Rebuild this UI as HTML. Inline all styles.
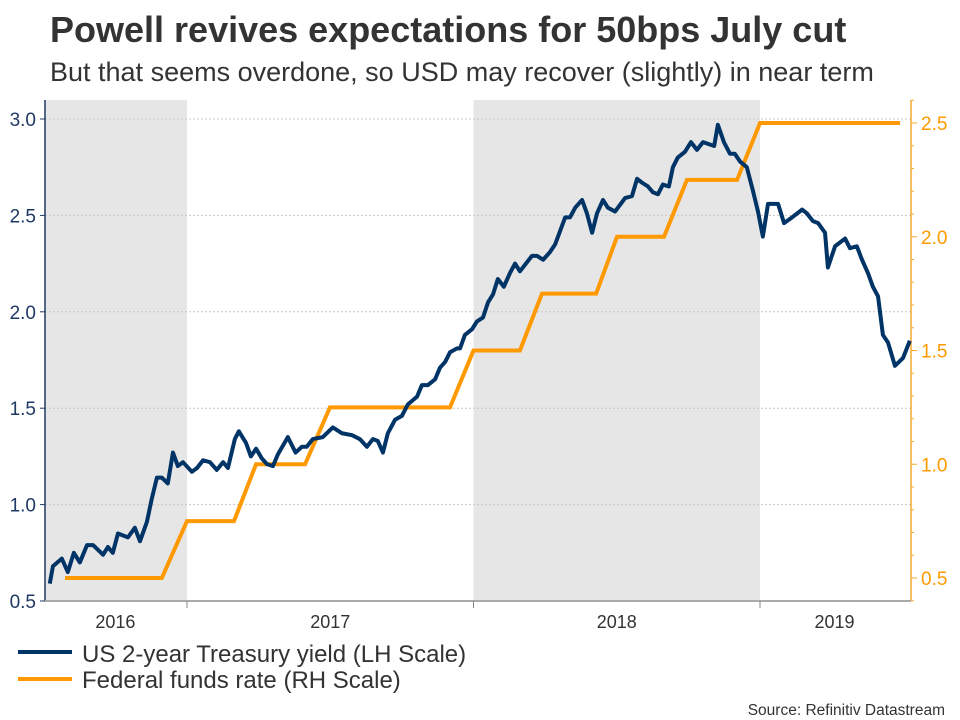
<!DOCTYPE html>
<html><head><meta charset="utf-8"><style>
body{margin:0;background:#fff;font-family:"Liberation Sans",Arial,sans-serif;}
svg{display:block}
</style></head><body>
<svg width="960" height="720" viewBox="0 0 960 720" xmlns="http://www.w3.org/2000/svg">
<text x="50" y="42" font-size="36" font-weight="bold" fill="#333">Powell revives expectations for 50bps July cut</text>
<text x="50" y="81" font-size="27" fill="#333">But that seems overdone, so USD may recover (slightly) in near term</text>
<g id="shade"></g>
<g id="grid"></g>
<g id="axes"></g>
<g id="series"></g>
<g>
<line x1="18" y1="652" x2="72" y2="652" stroke="#003366" stroke-width="4"/>
<text x="82" y="662" font-size="24" fill="#333">US 2-year Treasury yield (LH Scale)</text>
<line x1="18" y1="679" x2="72" y2="679" stroke="#ff9900" stroke-width="4"/>
<text x="82" y="688" font-size="24" fill="#333">Federal funds rate (RH Scale)</text>
</g>
<text x="945" y="715" font-size="15.5" fill="#333" text-anchor="end">Source: Refinitiv Datastream</text>
</svg>
<script>
const yieldDates=[2016.521,2016.532,2016.563,2016.584,2016.605,2016.626,2016.651,2016.672,2016.707,2016.724,2016.741,2016.759,2016.794,2016.818,2016.836,2016.860,2016.877,2016.895,2016.912,2016.933,2016.951,2016.968,2016.986,2017.017,2017.035,2017.056,2017.080,2017.104,2017.126,2017.143,2017.167,2017.181,2017.206,2017.223,2017.241,2017.261,2017.279,2017.300,2017.317,2017.352,2017.379,2017.401,2017.418,2017.439,2017.474,2017.509,2017.541,2017.576,2017.603,2017.628,2017.649,2017.666,2017.684,2017.701,2017.726,2017.750,2017.771,2017.803,2017.820,2017.841,2017.866,2017.883,2017.901,2017.918,2017.942,2017.953,2017.970,2017.995,2018.012,2018.033,2018.051,2018.068,2018.085,2018.106,2018.127,2018.145,2018.162,2018.204,2018.222,2018.243,2018.267,2018.285,2018.320,2018.337,2018.355,2018.379,2018.396,2018.414,2018.431,2018.452,2018.469,2018.494,2018.529,2018.553,2018.571,2018.588,2018.609,2018.626,2018.644,2018.661,2018.682,2018.696,2018.713,2018.738,2018.759,2018.780,2018.801,2018.840,2018.853,2018.874,2018.895,2018.912,2018.930,2018.954,2018.975,2018.993,2019.010,2019.028,2019.063,2019.084,2019.112,2019.147,2019.164,2019.185,2019.203,2019.227,2019.237,2019.262,2019.297,2019.314,2019.338,2019.356,2019.377,2019.394,2019.412,2019.429,2019.447,2019.471,2019.499,2019.523];
const yieldValues=[0.59,0.68,0.72,0.65,0.75,0.70,0.79,0.79,0.74,0.78,0.75,0.85,0.83,0.88,0.81,0.91,1.03,1.14,1.14,1.11,1.27,1.20,1.22,1.17,1.19,1.23,1.22,1.18,1.22,1.19,1.34,1.38,1.32,1.25,1.29,1.24,1.21,1.20,1.26,1.35,1.27,1.30,1.30,1.34,1.35,1.40,1.37,1.36,1.34,1.30,1.34,1.33,1.27,1.37,1.44,1.46,1.52,1.56,1.62,1.62,1.65,1.71,1.74,1.79,1.81,1.81,1.88,1.91,1.95,1.97,2.05,2.09,2.17,2.13,2.20,2.25,2.21,2.29,2.29,2.27,2.31,2.35,2.49,2.49,2.54,2.58,2.51,2.41,2.51,2.58,2.54,2.52,2.59,2.60,2.69,2.67,2.65,2.62,2.61,2.66,2.65,2.75,2.80,2.83,2.88,2.84,2.88,2.86,2.97,2.88,2.82,2.82,2.78,2.75,2.63,2.52,2.39,2.56,2.56,2.46,2.49,2.53,2.51,2.47,2.46,2.41,2.23,2.34,2.38,2.33,2.34,2.27,2.20,2.13,2.08,1.88,1.84,1.72,1.76,1.85];
const ffDates=[2016.574,2016.912,2017.0,2017.164,2017.241,2017.412,2017.499,2017.918,2018.0,2018.162,2018.239,2018.428,2018.501,2018.665,2018.745,2018.920,2019.0,2019.489];
const ffValues=[0.5,0.5,0.75,0.75,1.0,1.0,1.25,1.25,1.5,1.5,1.75,1.75,2.0,2.0,2.25,2.25,2.5,2.5];
const leftTicks=[0.5,1.0,1.5,2.0,2.5,3.0];
const leftTickLabels=["0.5","1.0","1.5","2.0","2.5","3.0"];
const rightTicks=[0.5,1.0,1.5,2.0,2.5];
const rightTickLabels=["0.5","1.0","1.5","2.0","2.5"];
const yearBounds=[2017,2018,2019];
const yearLabels=["2016","2017","2018","2019"];
const yearLabelDates=[2016.75,2017.5,2018.5,2019.26];
const shadedPeriods=[[2016.504,2017],[2018,2019]];

const NS="http://www.w3.org/2000/svg";
const L=45,R=911,T=100,B=601;
const x=t=>187+(t-2017)*286.5;
const yl=v=>601-(v-0.5)*192.8;
const yr=v=>578-(v-0.5)*227.5;
function mk(tag,attrs,parent){const e=document.createElementNS(NS,tag);for(const k in attrs)e.setAttribute(k,attrs[k]);parent.appendChild(e);return e;}
const shade=document.getElementById('shade'),grid=document.getElementById('grid'),axes=document.getElementById('axes'),series=document.getElementById('series');
shadedPeriods.forEach(p=>{const r=mk('rect',{x:x(p[0]),y:T,width:x(p[1])-x(p[0]),height:B-T,fill:'#e6e6e6'},shade);

});
leftTicks.forEach((v,i)=>{
 if(v>0.5){const g=mk('line',{x1:L,x2:R,y1:yl(v),y2:yl(v),stroke:'#c8c8c8','stroke-dasharray':'2,2'},grid);
 
 }
 mk('line',{x1:L-5,x2:L,y1:yl(v),y2:yl(v),stroke:'#1f3864'},axes);
 const t=mk('text',{x:L-9,y:yl(v)+7,'font-size':19,'text-anchor':'end',fill:'#1f3864'},axes);t.textContent=leftTickLabels[i];
 
 
});
for(let k=4;k<=26;k++){const v=k/10;const yy=yr(v);if(yy<T-1)continue;const major=rightTicks.some(r=>Math.abs(r-v)<1e-6);
 mk('line',{x1:R,x2:R+(major?6:3),y1:yy,y2:yy,stroke:'#f7a830'},axes);}
rightTicks.forEach((v,i)=>{const t=mk('text',{x:R+10,y:yr(v)+7,'font-size':19,fill:'#ff9900'},axes);t.textContent=rightTickLabels[i];
 
 });
mk('line',{x1:L,x2:L,y1:T,y2:B,stroke:'#1f3864','stroke-width':1.5},axes);
mk('line',{x1:R,x2:R,y1:T,y2:B,stroke:'#f7a830','stroke-width':1.5},axes);
mk('line',{x1:L,x2:R,y1:B,y2:B,stroke:'#aaa','stroke-width':2},axes);
yearBounds.forEach(t=>mk('line',{x1:x(t),x2:x(t),y1:B,y2:B+7,stroke:'#888'},axes));
yearLabels.forEach((s,i)=>{const t=mk('text',{x:x(yearLabelDates[i]),y:628,'font-size':18,'text-anchor':'middle',fill:'#333'},axes);t.textContent=s;
 
 });
const fp=mk('polyline',{points:ffDates.map((d,i)=>x(d)+','+yr(ffValues[i])).join(' '),fill:'none',stroke:'#ff9900','stroke-width':4},series);


const yp=mk('polyline',{points:yieldDates.map((d,i)=>x(d)+','+yl(yieldValues[i])).join(' '),fill:'none',stroke:'#003366','stroke-width':4,'stroke-linejoin':'round'},series);


</script>
</body></html>
